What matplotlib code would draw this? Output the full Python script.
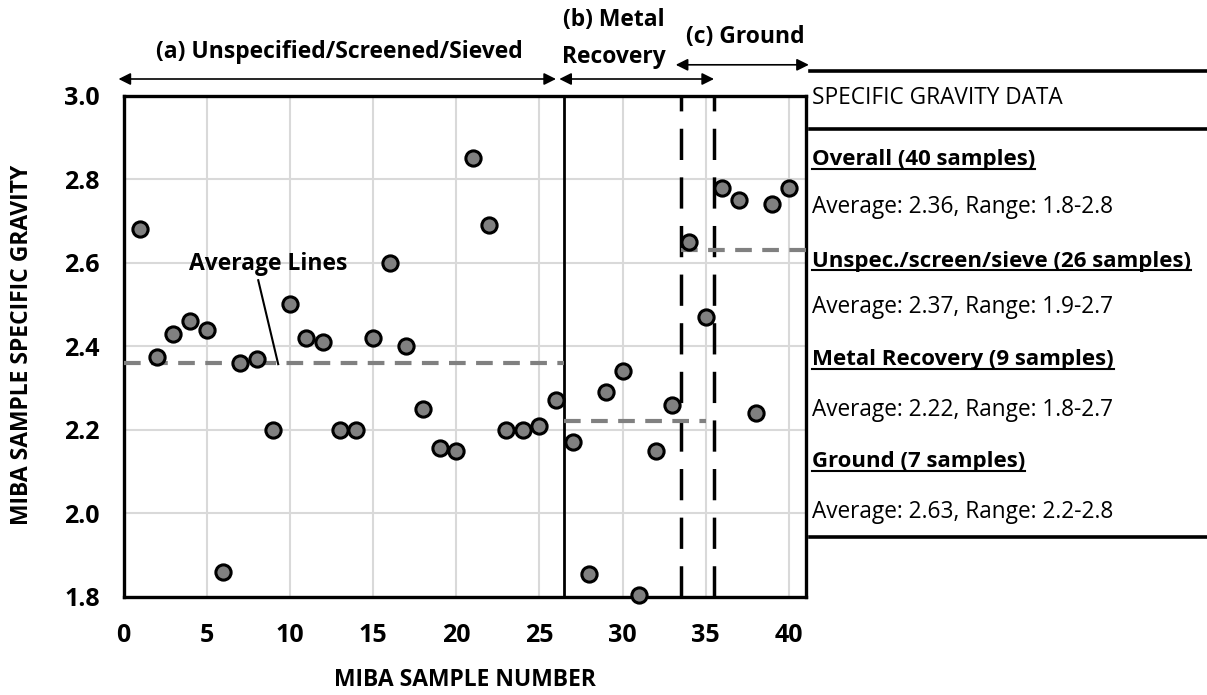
import numpy as np
import matplotlib.pyplot as plt
from matplotlib.lines import Line2D

plt.rcParams['font.family'] = ['Open Sans', 'DejaVu Sans']

# sample number vs specific gravity
sample_no = list(range(1, 41))
sg = [2.68, 2.375, 2.43, 2.46, 2.44, 1.86, 2.36, 2.37, 2.20, 2.50,
      2.42, 2.41, 2.20, 2.20, 2.42, 2.60, 2.40, 2.25, 2.155, 2.15,
      2.85, 2.69, 2.20, 2.20, 2.21, 2.27, 2.17, 1.855, 2.29, 2.34,
      1.805, 2.15, 2.26, 2.65, 2.47, 2.78, 2.75, 2.24, 2.74, 2.78]

# group averages: (x start, x end, value)
avg_lines = [(0, 26.5, 2.36), (26.5, 35, 2.22), (33.5, 41, 2.63)]
group_split = 26.5
ground_bounds = [33.5, 35.5]

x_ticks = list(range(0, 41, 5))
y_ticks = [1.8, 2.0, 2.2, 2.4, 2.6, 2.8, 3.0]

panel_title = "SPECIFIC GRAVITY DATA"
panel_rows = [("Overall (40 samples)", "Average: 2.36, Range: 1.8-2.8"),
              ("Unspec./screen/sieve (26 samples)", "Average: 2.37, Range: 1.9-2.7"),
              ("Metal Recovery (9 samples)", "Average: 2.22, Range: 1.8-2.7"),
              ("Ground (7 samples)", "Average: 2.63, Range: 2.2-2.8")]

W, H = 1207, 695
fig = plt.figure(figsize=(W / 100, H / 100), dpi=100, facecolor='w')
ax = fig.add_axes([123.5 / W, 1 - 596.7 / H, 682 / W, 501 / H])

ax.set_xlim(0, 41)
ax.set_ylim(1.8, 3.0)
ax.set_xticks(x_ticks)
ax.set_xticklabels([str(v) for v in x_ticks], fontsize=18, fontweight='bold')
ax.set_yticks(y_ticks)
ax.set_yticklabels([f"{v:.1f}" for v in y_ticks], fontsize=18, fontweight='bold')
ax.grid(True, color='#d9d9d9', lw=1.5)
ax.set_axisbelow(True)
ax.tick_params(axis='y', length=0, pad=17)
ax.tick_params(axis='x', length=0, pad=19)
for s in ax.spines.values():
    s.set_linewidth(2.4)

ax.set_xlabel("MIBA SAMPLE NUMBER", fontsize=16.5, fontweight='bold')
ax.set_ylabel("MIBA SAMPLE SPECIFIC GRAVITY", fontsize=16.5, fontweight='bold')
ax.xaxis.set_label_coords(465 / 682 - 123.5 / 682, -(680 - 596.7) / 501)
ax.yaxis.set_label_coords(-(123.5 - 22) / 682, (596.7 - 345) / 501)
ax.xaxis.label.set_va('center')
ax.yaxis.label.set_va('center')

# section dividers
ax.axvline(group_split, color='k', lw=2)
for xb in ground_bounds:
    ax.axvline(xb, color='k', lw=2.5, dashes=(9, 5))

# averages
for x0, x1, v in avg_lines:
    ax.plot([x0, x1], [v, v], color='#808080', lw=3, dashes=(4, 2.5), zorder=3)

ax.scatter(sample_no, sg, s=120, facecolor='#808080', edgecolor='k', linewidth=2.2,
           zorder=5, clip_on=False)

ax.text(8.68, 2.598, "Average Lines", ha='center', va='center', fontsize=16.5,
        fontweight='bold')
ax.plot([8.1, 9.3], [2.558, 2.357], color='k', lw=1.5, zorder=4)

# section labels above the plot
arr = dict(arrowstyle='<|-|>', color='k', lw=1.2, mutation_scale=18, shrinkA=0, shrinkB=0)
ax.annotate("", xy=(-0.3, 3.04), xytext=(26.0, 3.04), arrowprops=arr, annotation_clip=False)
ax.annotate("", xy=(26.2, 3.04), xytext=(35.5, 3.04), arrowprops=arr, annotation_clip=False)
ax.annotate("", xy=(33.2, 3.074), xytext=(41.2, 3.074), arrowprops=arr, annotation_clip=False)
sec_fs = 16.5
ax.text(13.0, 3.105, "(a) Unspecified/Screened/Sieved", ha='center', va='center',
        fontsize=sec_fs, fontweight='bold', clip_on=False)
ax.text(29.5, 3.182, "(b) Metal", ha='center', va='center', fontsize=sec_fs, fontweight='bold')
ax.text(29.5, 3.093, "Recovery", ha='center', va='center', fontsize=sec_fs, fontweight='bold')
ax.text(37.4, 3.141, "(c) Ground", ha='center', va='center', fontsize=sec_fs, fontweight='bold')

# data panel on the right
def fx(px):
    return px / W

def fy(py):
    return 1 - py / H

for py in (70.5, 128.5, 537):
    fig.add_artist(Line2D([fx(810), fx(1207)], [fy(py), fy(py)], color='k', lw=2.6))

fs = 16.3
fig.text(fx(812), fy(98), panel_title, ha='left', va='center', fontsize=fs)
heads = []
row_y = [(160, 207), (262, 307), (360, 410), (462, 512)]
for (head, body), (yh, yb) in zip(panel_rows, row_y):
    t = fig.text(fx(812), fy(yh), head, ha='left', va='center', fontsize=16,
                 fontweight='bold')
    heads.append(t)
    fig.text(fx(812), fy(yb), body, ha='left', va='center', fontsize=fs)

fig.canvas.draw()
r = fig.canvas.get_renderer()
for t in heads:
    bb = t.get_window_extent(r)
    yline = bb.y0 + 2
    fig.add_artist(Line2D([bb.x0 / W, bb.x1 / W], [yline / H, yline / H], color='k', lw=1.5))

fig.savefig('out.png', dpi=100)
